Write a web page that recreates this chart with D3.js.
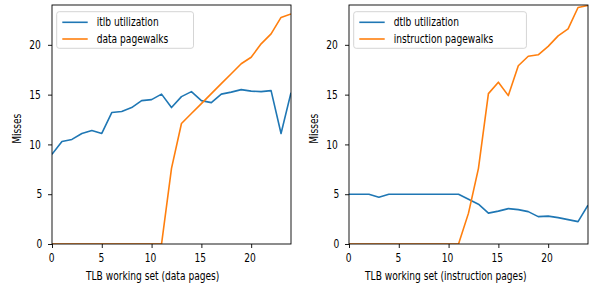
<!DOCTYPE html>
<html>
<head>
<meta charset="utf-8">
<script src="https://cdn.jsdelivr.net/npm/d3@7"></script>
<style>
  body { margin: 0; background: #fff; }
  text { font-family: "DejaVu Sans", sans-serif; fill: #000; }
</style>
</head>
<body>
<div id="chart"></div>
<script>
const workingSet = [0, 1, 2, 3, 4, 5, 6, 7, 8, 9, 10, 11, 12, 13, 14, 15, 16, 17, 18, 19, 20, 21, 22, 23, 24];

const itlbUtilization = [9.0, 10.3, 10.5, 11.1, 11.4, 11.1, 13.2, 13.3, 13.7, 14.4, 14.5, 15.05, 13.7, 14.8, 15.3, 14.4, 14.2, 15.05, 15.25, 15.5, 15.35, 15.3, 15.4, 11.1, 15.2];
const dataPagewalks = [0, 0, 0, 0, 0, 0, 0, 0, 0, 0, 0, 0, 7.6, 12.1, 13.1, 14.1, 15.1, 16.1, 17.1, 18.1, 18.75, 20.1, 21.1, 22.75, 23.1];

const dtlbUtilization = [5.0, 5.0, 5.0, 4.7, 5.0, 5.0, 5.0, 5.0, 5.0, 5.0, 5.0, 5.0, 4.5, 4.0, 3.1, 3.3, 3.55, 3.45, 3.25, 2.75, 2.8, 2.65, 2.45, 2.25, 3.9];
const instructionPagewalks = [0, 0, 0, 0, 0, 0, 0, 0, 0, 0, 0, 0, 3.1, 7.6, 15.1, 16.25, 14.9, 17.9, 18.85, 19.0, 19.85, 20.9, 21.6, 23.75, 23.95];

const xTicks = [0, 5, 10, 15, 20];
const yTicks = [0, 5, 10, 15, 20];

const panels = [
  { left: 52, xLabel: "TLB working set (data pages)",
    series: [["itlb utilization", itlbUtilization], ["data pagewalks", dataPagewalks]] },
  { left: 349, xLabel: "TLB working set (instruction pages)",
    series: [["dtlb utilization", dtlbUtilization], ["instruction pagewalks", instructionPagewalks]] }
];

const colors = ["#1f77b4", "#ff7f0e"];
const W = 591, H = 283;
const plotTop = 5, plotW = 239, plotH = 239;
const fontSize = 11.67;
const squeezeRatio = 0.78;

const svg = d3.select("#chart").append("svg")
  .attr("width", W)
  .attr("height", H);

const y = d3.scaleLinear().domain([0, 24]).range([plotH, 0]);

// text is laid out at full width, then drawn narrower from the same start
function squeeze(sel, anchor) {
  sel.each(function() {
    const t = d3.select(this);
    const len = this.getComputedTextLength();
    let x = +t.attr("x") || 0;
    if (anchor === "middle") x -= len / 2;
    else if (anchor === "end") x -= len;
    t.attr("text-anchor", "start")
      .attr("x", x)
      .attr("textLength", len * squeezeRatio)
      .attr("lengthAdjust", "spacingAndGlyphs");
  });
  return len => len;
}

panels.forEach((p, i) => {
  const x = d3.scaleLinear().domain([0, 24]).range([0, plotW]);

  const g = svg.append("g")
    .attr("transform", "translate(" + p.left + "," + plotTop + ")");

  g.append("defs").append("clipPath")
    .attr("id", "clip" + i)
    .append("rect")
    .attr("width", plotW)
    .attr("height", plotH);

  const line = d3.line()
    .x((d, j) => x(workingSet[j]))
    .y(d => y(d));

  p.series.forEach((s, k) => {
    g.append("path")
      .attr("clip-path", "url(#clip" + i + ")")
      .attr("fill", "none")
      .attr("stroke", colors[k])
      .attr("stroke-width", 1.6)
      .attr("stroke-linejoin", "round")
      .attr("d", line(s[1]));
  });

  // axes
  const xAxis = g.append("g")
    .attr("transform", "translate(0," + plotH + ")")
    .call(d3.axisBottom(x).tickValues(xTicks).tickSize(4).tickPadding(6));
  const yAxis = g.append("g")
    .call(d3.axisLeft(y).tickValues(yTicks).tickSize(4).tickPadding(4));

  [xAxis, yAxis].forEach(a => {
    a.select(".domain").remove();
    a.selectAll(".tick line").attr("stroke", "#000").attr("stroke-width", 0.9);
    a.selectAll(".tick text")
      .attr("font-size", fontSize)
      .attr("font-family", "DejaVu Sans")
      .attr("fill", "#000");
  });
  squeeze(xAxis.selectAll(".tick text"), "middle");
  squeeze(yAxis.selectAll(".tick text"), "end");

  g.append("rect")
    .attr("width", plotW)
    .attr("height", plotH)
    .attr("fill", "none")
    .attr("stroke", "#000")
    .attr("stroke-width", 0.9);

  g.append("text")
    .attr("x", plotW / 2)
    .attr("y", plotH + 35.5)
    .attr("font-size", fontSize)
    .text(p.xLabel)
    .call(squeeze, "middle");

  g.append("g")
    .attr("transform", "translate(" + -31.5 + "," + plotH / 2 + ") rotate(-90)")
    .append("text")
    .attr("font-size", fontSize)
    .text("Misses")
    .call(squeeze, "middle");

  // legend
  const legend = g.append("g").attr("transform", "translate(4.7,6.7)");
  const box = legend.append("rect")
    .attr("height", 36.6)
    .attr("rx", 2.5)
    .attr("fill", "#fff")
    .attr("fill-opacity", 0.8)
    .attr("stroke", "#d0d0d0")
    .attr("stroke-width", 0.9);

  let maxW = 0;
  p.series.forEach((s, k) => {
    const ly = 10.6 + k * 16.7;
    legend.append("line")
      .attr("x1", 5.6).attr("x2", 31)
      .attr("y1", ly).attr("y2", ly)
      .attr("stroke", colors[k])
      .attr("stroke-width", 1.6);
    const t = legend.append("text")
      .attr("x", 40)
      .attr("y", ly)
      .attr("dy", "0.35em")
      .attr("font-size", fontSize)
      .text(s[0]);
    maxW = Math.max(maxW, t.node().getComputedTextLength());
    squeeze(t, "start");
  });
  box.attr("width", 40 + maxW + 5);
});
</script>
</body>
</html>
